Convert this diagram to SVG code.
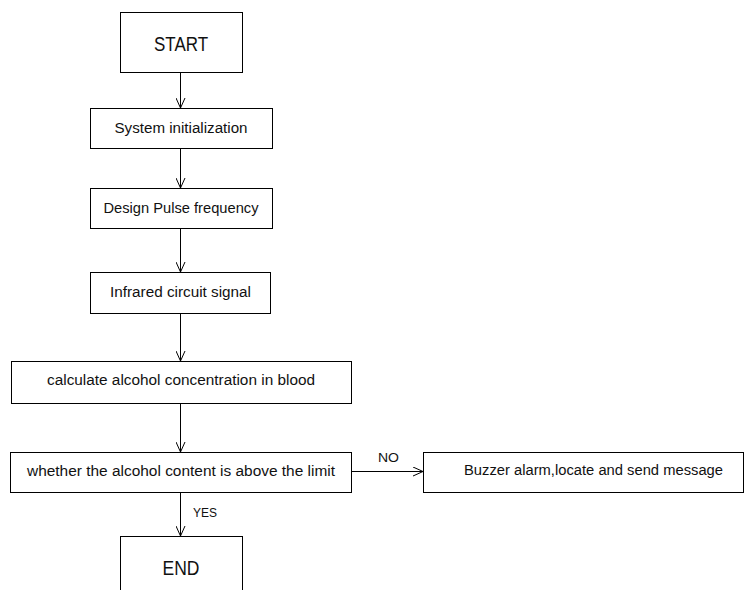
<svg xmlns="http://www.w3.org/2000/svg" width="752" height="590" viewBox="0 0 752 590">
<style>
.box{fill:#fff;stroke:#000;stroke-width:1}
.t{font-family:"Liberation Sans",Arial,sans-serif;font-size:14px;fill:#111;text-anchor:middle}
.big{font-size:20px}
.lbl{font-family:"Liberation Sans",Arial,sans-serif;font-size:13px;fill:#111}
.c{stroke:#000;stroke-width:1;fill:none}
</style>
<defs>
<marker id="ah" viewBox="0 0 10 10" refX="10" refY="5" markerWidth="10" markerHeight="10" markerUnits="userSpaceOnUse" orient="auto">
<path d="M0,0.5 L10,5 L0,9.5" fill="none" stroke="#000" stroke-width="1"/>
</marker>
</defs>
<rect width="752" height="590" fill="#fff"/>
<g id="start"><rect class="box" x="120.5" y="12.5" width="122" height="60"/><text class="t big" x="181" y="51" textLength="54" lengthAdjust="spacingAndGlyphs">START</text></g>
<g id="init"><rect class="box" x="90.5" y="108.5" width="182" height="40"/><text class="t" x="181" y="133" textLength="133" lengthAdjust="spacingAndGlyphs">System initialization</text></g>
<g id="pulse"><rect class="box" x="90.5" y="188.5" width="182" height="40"/><text class="t" x="181" y="213" textLength="155" lengthAdjust="spacingAndGlyphs">Design Pulse frequency</text></g>
<g id="infrared"><rect class="box" x="90.5" y="272.5" width="180" height="41"/><text class="t" x="180.5" y="297" textLength="141" lengthAdjust="spacingAndGlyphs">Infrared circuit signal</text></g>
<g id="calc"><rect class="box" x="11.5" y="361.5" width="340" height="42"/><text class="t" x="181" y="385" textLength="268" lengthAdjust="spacingAndGlyphs">calculate alcohol concentration in blood</text></g>
<g id="whether"><rect class="box" x="10.5" y="452.5" width="341" height="40"/><text class="t" x="181" y="476" textLength="308" lengthAdjust="spacingAndGlyphs">whether the alcohol content is above the limit</text></g>
<g id="buzzer"><rect class="box" x="423.5" y="452.5" width="320" height="40"/><text class="t" x="593.5" y="475" textLength="259" lengthAdjust="spacingAndGlyphs">Buzzer alarm,locate and send message</text></g>
<g id="end"><rect class="box" x="120.5" y="536.5" width="122" height="70"/><text class="t big" x="181" y="575" textLength="37" lengthAdjust="spacingAndGlyphs">END</text></g>
<g id="connectors">
<line class="c" x1="180.5" y1="73" x2="180.5" y2="108" marker-end="url(#ah)"/>
<line class="c" x1="180.5" y1="149" x2="180.5" y2="188" marker-end="url(#ah)"/>
<line class="c" x1="180.5" y1="229" x2="180.5" y2="272" marker-end="url(#ah)"/>
<line class="c" x1="180.5" y1="314" x2="180.5" y2="361" marker-end="url(#ah)"/>
<line class="c" x1="180.5" y1="404" x2="180.5" y2="452" marker-end="url(#ah)"/>
<line class="c" x1="180.5" y1="493" x2="180.5" y2="536" marker-end="url(#ah)"/>
<line class="c" x1="352" y1="471.5" x2="423" y2="471.5" marker-end="url(#ah)"/>
<text class="lbl" x="193" y="517" textLength="24" lengthAdjust="spacingAndGlyphs">YES</text>
<text class="lbl" x="378" y="462" textLength="21" lengthAdjust="spacingAndGlyphs">NO</text>
</g>
</svg>
